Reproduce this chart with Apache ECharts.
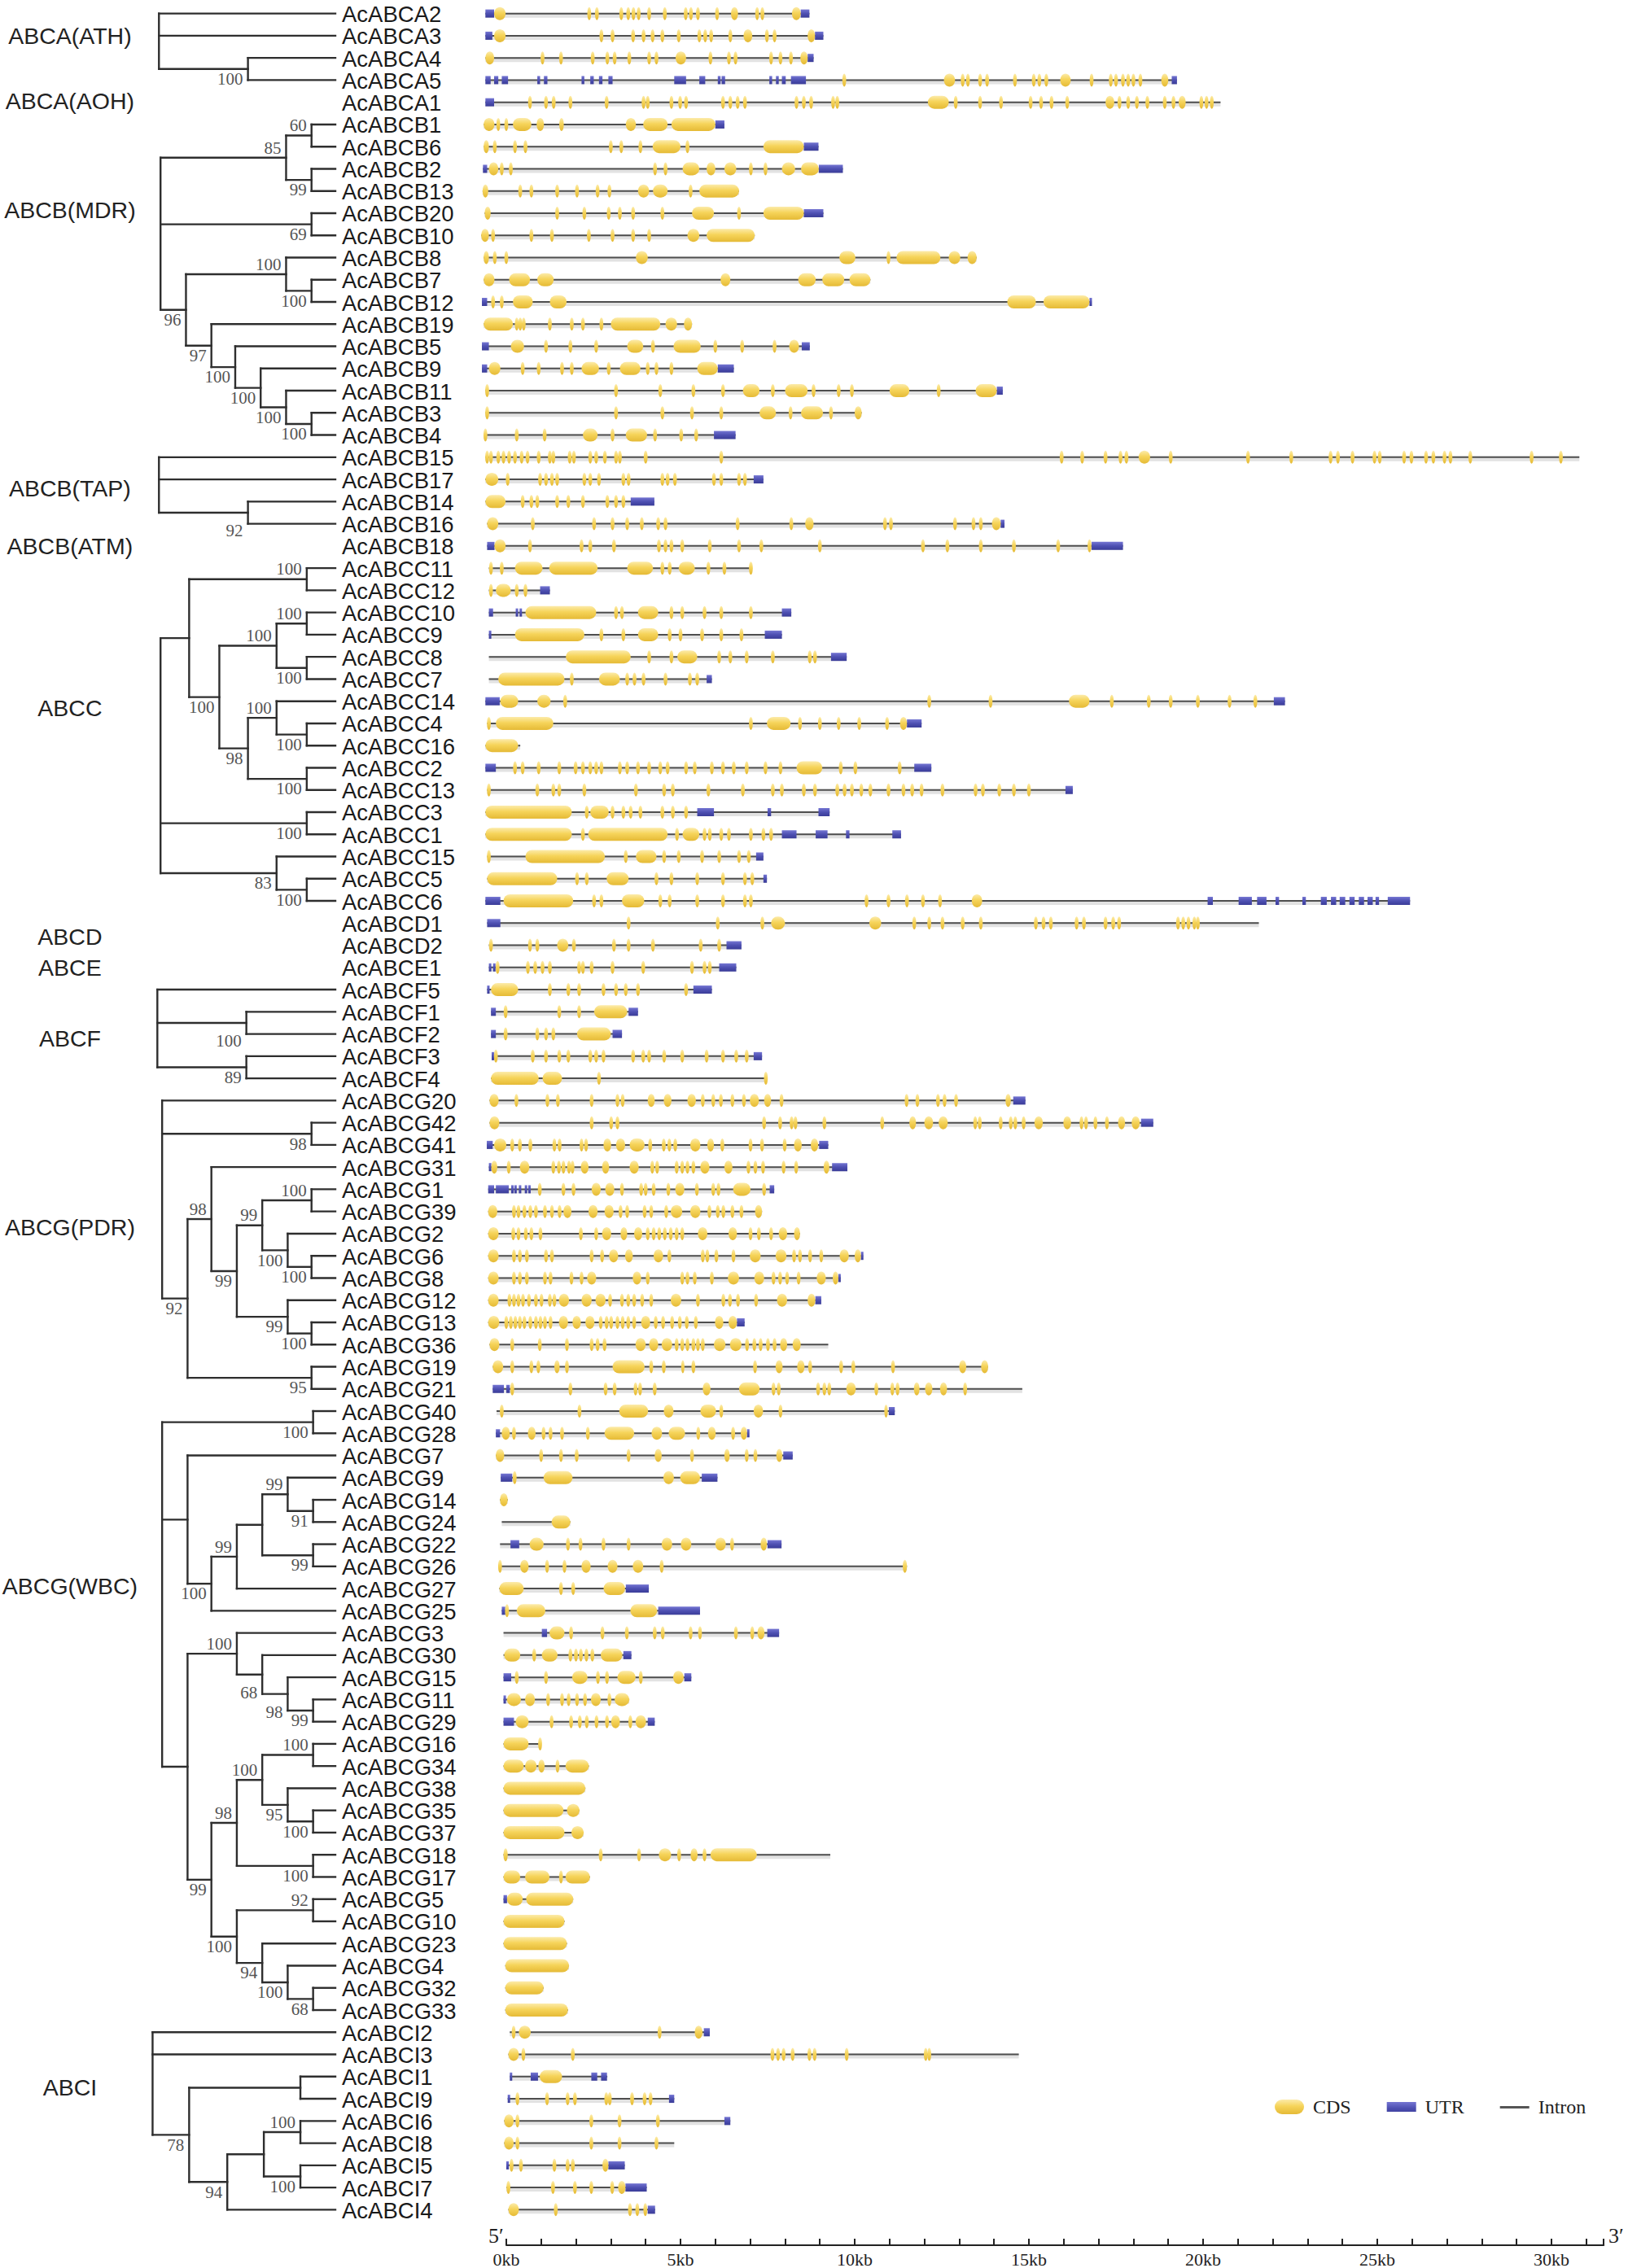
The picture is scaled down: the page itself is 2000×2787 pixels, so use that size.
<!DOCTYPE html>
<html>
<head>
<meta charset="utf-8">
<title>ABC gene family - tree and gene structure</title>
<script src="https://cdn.jsdelivr.net/npm/echarts/dist/echarts.min.js"></script>
<style>
  html, body { margin: 0; padding: 0; background: #fff; }
  #chart { width: 2000px; height: 2787px; }
</style>
</head>
<body>
<div id="chart"></div>
<script>
// ---- rows (top to bottom) ----
const geneNames = [
  'AcABCA2','AcABCA3','AcABCA4','AcABCA5','AcABCA1',
  'AcABCB1','AcABCB6','AcABCB2','AcABCB13','AcABCB20','AcABCB10','AcABCB8','AcABCB7','AcABCB12',
  'AcABCB19','AcABCB5','AcABCB9','AcABCB11','AcABCB3','AcABCB4','AcABCB15','AcABCB17','AcABCB14',
  'AcABCB16','AcABCB18',
  'AcABCC11','AcABCC12','AcABCC10','AcABCC9','AcABCC8','AcABCC7','AcABCC14','AcABCC4','AcABCC16',
  'AcABCC2','AcABCC13','AcABCC3','AcABCC1','AcABCC15','AcABCC5','AcABCC6',
  'AcABCD1','AcABCD2','AcABCE1',
  'AcABCF5','AcABCF1','AcABCF2','AcABCF3','AcABCF4',
  'AcABCG20','AcABCG42','AcABCG41','AcABCG31','AcABCG1','AcABCG39','AcABCG2','AcABCG6','AcABCG8',
  'AcABCG12','AcABCG13','AcABCG36','AcABCG19','AcABCG21',
  'AcABCG40','AcABCG28','AcABCG7','AcABCG9','AcABCG14','AcABCG24','AcABCG22','AcABCG26','AcABCG27',
  'AcABCG25','AcABCG3','AcABCG30','AcABCG15','AcABCG11','AcABCG29','AcABCG16','AcABCG34','AcABCG38',
  'AcABCG35','AcABCG37','AcABCG18','AcABCG17','AcABCG5','AcABCG10','AcABCG23','AcABCG4','AcABCG32',
  'AcABCG33',
  'AcABCI2','AcABCI3','AcABCI1','AcABCI9','AcABCI6','AcABCI8','AcABCI5','AcABCI7','AcABCI4'
];

// ---- gene span (kb), intron line from start to end ----
const geneSpan = [
  [-0.6,8.7],[-0.6,9.1],[-0.6,8.82],[-0.6,19.25],[-0.6,20.5],
  [-0.65,6.26],[-0.65,8.96],[-0.67,9.66],[-0.68,6.68],[-0.62,9.1],[-0.72,7.13],[-0.65,13.5],[-0.65,10.45],[-0.7,16.8],
  [-0.65,5.33],[-0.7,8.71],[-0.7,6.53],[-0.6,14.25],[-0.6,10.2],[-0.65,6.58],[-0.6,30.8],[-0.6,7.38],[-0.6,4.25],
  [-0.55,14.3],[-0.55,17.7],
  [-0.5,7.05],[-0.5,1.25],[-0.5,8.18],[-0.5,7.91],[-0.5,9.77],[-0.5,5.9],[-0.6,22.35],[-0.55,11.92],[-0.6,0.4],
  [-0.6,12.2],[-0.55,16.26],[-0.6,9.28],[-0.6,11.33],[-0.55,7.38],[-0.55,7.48],[-0.6,25.94],
  [-0.55,21.6],[-0.5,6.75],[-0.5,6.6],
  [-0.55,5.9],[-0.44,3.78],[-0.44,3.32],[-0.42,7.34],[-0.44,7.48],
  [-0.48,14.9],[-0.48,18.57],[-0.56,9.24],[-0.5,9.79],[-0.52,7.69],[-0.52,7.34],[-0.52,8.43],[-0.52,10.24],[-0.52,9.6],
  [-0.52,9.04],[-0.52,6.84],[-0.48,9.24],[-0.39,13.83],[-0.39,14.81],
  [-0.28,11.15],[-0.3,6.96],[-0.3,8.22],[-0.16,6.06],[-0.18,0.04],[-0.13,1.84],[-0.18,7.9],[-0.22,11.5],[-0.2,4.09],
  [-0.13,5.56],[-0.08,7.83],[-0.08,3.59],[-0.08,5.31],[-0.08,3.53],[-0.08,4.26],[-0.08,1.0],[-0.08,2.37],[-0.08,2.27],
  [-0.08,2.1],[-0.08,2.22],[-0.08,9.3],[-0.08,2.4],[-0.08,1.92],[-0.08,1.67],[-0.08,1.74],[-0.03,1.8],[-0.03,1.07],
  [-0.03,1.77],
  [0.1,5.84],[0.06,14.71],[0.1,2.9],[0.04,4.82],[-0.06,6.43],[-0.06,4.82],[0.0,3.4],[0.0,4.03],[0.06,4.27]
];

// ---- CDS exons (kb): [start, end], or a single number for a small exon centre ----
const cdsExons = [
  [[-0.35,-0.02],2.38,2.6,3.3,3.5,3.65,3.8,4.1,4.55,5.15,5.3,5.5,6.05,[6.45,6.65],7.2,7.35,[8.2,8.45]],
  [[-0.35,-0.02],2.73,3.05,3.64,3.94,4.2,4.48,4.95,5.54,5.71,5.88,6.43,[6.81,7.06],7.48,7.7,[8.65,8.86]],
  [[-0.6,-0.35],1.04,1.57,2.48,2.9,3.11,3.53,4.1,4.31,[4.86,5.16],5.86,6.39,6.58,7.6,7.87,8.17,[8.44,8.65]],
  [9.7,[12.56,12.88],13.1,13.25,13.6,13.8,14.6,15.14,15.3,15.5,[15.9,16.2],16.8,17.35,17.5,17.7,17.85,18.0,18.2,[18.8,19.0]],
  [0.68,1.14,1.36,1.84,2.88,3.94,4.06,4.74,4.99,5.16,6.22,6.43,6.64,6.85,8.33,8.54,8.75,9.38,9.5,[12.1,12.7],12.9,13.6,
   14.2,15.05,15.35,15.65,16.1,[17.2,17.45],17.6,17.85,18.1,18.4,18.9,19.15,[19.3,19.5],19.95,20.1,20.25],
  [[-0.65,-0.34],-0.23,0.0,[0.19,0.72],[0.87,1.08],[1.52,1.65],[3.43,3.72],[3.93,4.63],[4.74,6.0]],
  [[-0.65,-0.5],-0.33,0.25,0.55,3.0,3.3,3.85,[4.2,5.0],5.2,[7.38,8.54]],
  [[-0.5,-0.23],-0.13,0.13,4.27,4.57,[5.06,5.54],[5.75,6.0],[6.26,6.6],7.02,7.44,[7.91,8.29],[8.46,8.97]],
  [[-0.68,-0.52],0.4,0.72,1.46,2.03,2.62,2.96,[3.78,4.1],[4.21,4.63],5.29,[5.54,6.68]],
  [[-0.62,-0.45],1.46,2.24,2.94,3.26,3.64,4.48,[5.33,5.96],6.68,[7.38,8.54]],
  [[-0.72,-0.5],-0.38,0.72,1.31,2.37,3.05,3.64,4.1,[5.2,5.54],[5.75,7.13]],
  [[-0.65,-0.5],-0.33,0.0,[3.72,4.06],[9.56,10.02],10.97,[11.2,12.46],[12.7,13.03],[13.24,13.5]],
  [[-0.65,-0.34],[0.08,0.68],[0.89,1.36],[6.15,6.43],[8.38,8.88],[9.07,9.7],[9.85,10.45]],
  [-0.38,-0.13,[0.19,0.76],[1.25,1.73],[14.38,15.2],[15.42,16.74]],
  [[-0.65,0.19],0.3,0.4,0.5,1.25,1.88,2.2,2.73,[3.0,4.42],[4.57,4.9],[5.1,5.33]],
  [[0.13,0.51],1.14,1.84,2.58,[3.47,3.93],4.21,[4.8,5.58],6.0,6.77,7.7,[8.12,8.4]],
  [[-0.5,-0.17],0.47,0.93,1.6,1.88,[2.16,2.66],2.94,[3.26,3.85],4.06,4.31,4.74,[5.48,6.07]],
  [-0.55,3.15,4.42,5.37,6.22,[6.79,7.27],7.65,[8.0,8.65],8.82,9.54,9.92,[11.0,11.57],12.41,[13.47,14.08]],
  [-0.55,3.15,4.48,5.33,6.17,[7.27,7.74],8.16,[8.46,9.09],9.32,[10.0,10.2]],
  [-0.6,0.3,1.1,[2.2,2.62],3.05,[3.43,4.04],4.27,5.02,5.45],
  [-0.55,-0.44,-0.23,-0.08,0.08,0.25,0.44,0.61,0.93,1.25,1.35,1.82,1.94,2.41,2.58,2.83,3.15,3.26,4.0,6.17,15.94,16.53,
   17.2,17.63,17.8,[18.15,18.48],19.07,21.29,22.53,23.66,23.87,24.29,24.92,25.07,25.77,25.98,26.4,26.61,26.93,27.1,
   27.67,29.43,30.27],
  [[-0.6,-0.23],0.04,0.97,1.14,1.31,1.46,2.24,2.41,2.66,3.36,3.51,4.48,4.63,4.84,5.96,6.17,6.68,6.85],
  [[-0.6,-0.02],0.47,0.72,0.89,1.46,1.78,2.2,2.9,3.15,3.36],
  [[-0.55,-0.23],0.76,2.52,3.05,3.47,3.89,4.36,4.57,6.64,8.18,[8.58,8.82],10.87,11.04,12.88,13.41,13.62,[13.94,14.19]],
  [[-0.34,-0.02],0.68,2.16,2.41,3.09,4.38,4.57,4.74,5.05,5.84,6.68,7.32,9.0,11.96,12.66,13.62,14.57,15.84,16.74],
  [-0.44,-0.13,[0.25,1.04],[1.23,2.62],[3.47,4.21],4.48,4.69,[4.95,5.41],5.8,6.26,7.02],
  [-0.44,[-0.3,0.13],0.3,0.55],
  [[0.55,2.58],3.15,3.32,[3.78,4.36],4.74,5.05,5.69,6.17,7.02],
  [[0.25,2.24],2.73,3.36,[3.78,4.36],4.69,5.0,5.62,6.17,6.75],
  [[1.71,3.57],4.1,4.74,[4.91,5.48],6.11,6.43,6.9,7.65,8.71,8.86],
  [[-0.23,1.67],1.88,[2.66,3.26],3.47,3.68,3.94,4.57,5.27,5.48],
  [[-0.17,0.34],[0.89,1.27],1.69,12.14,13.9,[16.15,16.74],17.38,18.44,19.07,19.85,20.76,21.5],
  [-0.5,[-0.3,1.35],7.02,[7.48,8.16],8.43,9.0,9.54,10.13,10.93,[11.3,11.5]],
  [[-0.6,0.34]],
  [0.25,0.47,0.93,1.52,1.99,2.2,2.41,2.58,2.73,3.26,3.47,3.78,4.1,4.42,4.63,5.16,5.41,5.9,6.22,6.53,6.9,7.44,7.87,
   [8.33,9.07],9.6,10.02,11.29],
  [-0.5,0.89,1.35,1.52,2.24,3.72,4.53,4.78,5.8,6.79,7.65,7.91,8.54,8.86,9.5,9.71,9.92,10.19,10.45,10.97,11.4,11.65,
   11.92,12.52,13.47,13.68,14.15,14.57,15.0],
  [[-0.6,1.88],2.31,[2.41,2.94],3.05,3.36,3.57,3.85,4.48,4.78,5.16],
  [[-0.6,1.88],2.2,[2.35,4.63],4.9,[5.06,5.54],5.69,5.84,6.17,6.39,7.02,7.38,7.6],
  [-0.5,[0.55,2.83],3.43,[3.72,4.31],4.53,4.95,5.62,6.11,6.68,6.96],
  [[-0.55,1.46],2.03,2.31,[2.88,3.51],4.31,4.74,5.48,6.22,6.85,7.06],
  [[-0.08,1.92],2.52,2.73,[3.32,3.96],4.42,4.69,5.48,6.22,6.85,7.02,10.34,10.97,11.5,11.96,12.45,[13.36,13.66]],
  [3.51,6.07,7.35,[7.6,8.0],[10.42,10.76],11.71,12.14,12.52,13.1,13.62,15.2,15.42,15.63,16.37,16.58,17.2,17.42,17.59,
   19.28,19.43,19.58,19.75,19.85],
  [-0.44,0.68,0.89,[1.46,1.78],1.94,3.09,3.51,4.21,5.58,6.11],
  [-0.25,0.62,0.83,1.04,1.25,2.09,2.2,2.45,3.05,3.93,5.33,5.69,5.84],
  [[-0.44,0.34],1.25,1.78,2.09,2.79,3.15,3.43,3.78,5.16],
  [-0.02,1.52,2.09,[2.52,3.47]],
  [-0.02,0.89,1.14,1.35,[2.03,3.0]],
  [-0.3,0.76,1.14,1.52,1.78,2.41,2.58,2.79,3.64,3.93,4.1,4.53,5.05,5.75,6.22,6.6,6.9],
  [[-0.44,0.93],[1.04,1.6],2.66,7.45],
  [[-0.48,-0.22],0.29,1.18,1.48,2.45,3.19,3.34,[4.06,4.26],[4.52,4.74],[5.2,5.44],5.64,5.94,6.16,6.49,6.82,[6.99,7.25],
   [7.4,7.6],7.9,11.49,11.8,12.39,12.58,12.91,[14.33,14.48]],
  [[-0.48,-0.2],2.45,3.01,3.19,7.4,7.86,8.19,8.3,9.13,10.79,[11.57,11.76],[12.0,12.25],[12.41,12.67],13.46,13.59,14.19,
   14.48,14.61,14.85,[15.16,15.4],[15.99,16.21],16.51,16.64,16.91,17.24,[17.56,17.76],[17.95,18.18]],
  [[-0.35,0.0],0.17,0.39,0.69,1.38,1.53,2.16,2.29,[2.79,3.01],[3.15,3.41],[3.54,3.97],4.13,4.52,4.68,4.85,[5.28,5.57],
   [5.77,5.96],6.2,7.01,7.34,7.99,[8.26,8.48],[8.74,8.95]],
  [[-0.43,-0.26],0.07,[0.39,0.66],1.35,1.51,1.64,1.8,1.9,[2.14,2.36],[2.75,2.95],[3.54,3.8],4.19,4.33,4.89,5.05,5.2,
   5.37,[5.57,5.83],[6.26,6.49],6.95,7.15,7.37,7.96,8.32,[9.11,9.27]],
  [0.96,1.64,1.93,[2.45,2.71],[2.84,3.1],3.32,3.87,4.0,4.23,4.65,[4.85,5.11],5.47,5.94,6.09,[6.51,7.01],7.4],
  [[-0.52,-0.26],0.22,0.35,0.52,0.69,0.85,1.11,1.31,1.53,[1.64,1.87],[2.36,2.62],[2.82,3.08],3.28,3.47,3.97,4.16,4.59,
   [4.72,5.05],[5.28,5.57],5.83,6.07,6.23,6.49,6.75,[7.14,7.34]],
  [[-0.52,-0.22],0.2,0.35,0.56,0.72,0.98,2.14,2.58,[2.75,3.01],[3.28,3.47],[3.67,3.9],4.06,4.23,4.39,4.55,4.72,4.89,
   5.05,[5.5,5.77],[6.38,6.62],7.01,7.25,7.6,[7.82,8.06],[8.26,8.43]],
  [[-0.52,-0.22],0.22,0.39,0.59,1.14,1.31,2.45,2.75,[2.95,3.21],[3.41,3.63],[4.23,4.5],4.68,5.64,5.77,6.03,6.52,
   [6.99,7.3],[7.73,8.04],8.26,8.43,8.72,9.04,[9.57,9.83],[10.0,10.18]],
  [[-0.52,-0.22],0.22,0.39,0.59,1.11,1.27,1.87,2.16,[2.32,2.58],[3.63,3.87],4.06,5.05,5.2,5.41,5.9,[6.36,6.68],
   [7.12,7.4],7.67,7.86,8.06,8.39,[8.91,9.17],[9.37,9.53]],
  [[-0.52,-0.22],0.09,0.22,0.35,0.48,0.65,0.85,1.01,1.25,1.38,[1.51,1.8],[2.16,2.45],[2.56,2.85],2.98,3.32,3.5,3.67,
   3.9,4.16,[4.72,5.02],5.5,6.23,6.42,6.65,7.17,[7.77,8.06],[8.65,8.87]],
  [[-0.52,-0.2],0.0,0.13,0.26,0.39,0.52,0.69,0.85,0.98,1.11,1.27,[1.51,1.77],[1.9,2.14],[2.27,2.53],2.71,2.88,3.01,
   3.19,3.34,3.5,3.67,[3.87,4.13],4.29,4.5,4.76,4.98,5.18,5.44,[5.99,6.23],[6.38,6.62]],
  [[-0.48,-0.2],0.17,0.96,1.74,2.45,2.62,2.82,[3.71,4.0],[4.1,4.36],[4.46,4.76],4.89,5.05,5.2,5.37,5.5,5.64,
   [5.96,6.29],[6.42,6.75],6.91,7.12,7.3,7.51,7.7,[7.86,8.06],[8.22,8.45]],
  [[-0.39,-0.09],0.17,0.72,0.92,[1.38,1.53],1.74,[3.05,3.97],4.16,4.52,[5.02,5.11],5.37,7.14,[7.73,7.93],[8.35,8.56],
   8.72,9.61,9.96,11.1,[13.0,13.2],[13.63,13.83]],
  [0.17,1.84,2.85,3.11,3.71,3.84,4.26,[5.64,5.86],[6.68,7.27],7.67,7.82,8.95,9.13,9.27,[9.76,10.03],10.62,11.08,
   11.23,[11.7,11.86],[12.02,12.23],[12.45,12.65],13.17],
  [-0.13,2.1,[3.24,4.07],[4.52,4.8],[5.57,6.02],6.17,[7.1,7.37],7.87,[10.85,10.95]],
  [[-0.13,0.1],0.22,[0.62,0.84],1.07,1.27,1.6,2.34,[2.82,3.67],[4.17,4.47],[4.66,5.13],5.51,[5.79,6.01],6.51,[6.73,6.91]],
  [[-0.3,-0.06],1.0,1.57,2.02,3.51,[4.26,4.46],5.33,[6.26,6.41],6.9,7.15,[7.75,7.92]],
  [0.24,[1.07,1.9],[4.51,4.81],[4.99,5.56]],
  [[-0.18,0.04]],
  [[1.3,1.84]],
  [[0.67,1.07],1.77,2.13,2.79,3.51,[4.46,4.76],[5.01,5.31],[6.0,6.3],6.48,[7.3,7.48]],
  [-0.18,[0.4,0.64],1.17,1.67,[2.16,2.42],[2.91,3.19],[3.63,3.93],4.46,[11.38,11.5]],
  [[-0.2,0.5],1.57,1.92,[2.79,3.41]],
  [0.02,[0.3,1.12],[3.56,4.33]],
  [[1.24,1.67],1.86,2.76,3.46,4.26,4.49,5.29,5.56,6.59,7.06,[7.21,7.41]],
  [[-0.06,0.4],0.8,[1.02,1.47],1.84,2.0,2.14,2.3,2.47,[2.71,3.33]],
  [0.3,1.14,[1.89,2.33],2.63,2.89,[3.19,3.71],3.86,[4.79,5.09]],
  [[0.02,0.42],[0.54,0.82],1.2,1.6,1.79,2.03,2.26,[2.43,2.71],2.96,[3.11,3.53]],
  [[0.27,0.64],1.3,1.86,2.11,2.31,2.59,2.89,[3.01,3.26],3.56,[3.71,4.01]],
  [[-0.08,0.64],0.97],
  [[-0.08,0.5],[0.54,0.87],[0.92,1.1],1.47,[1.7,2.37]],
  [[-0.08,2.27]],
  [[-0.08,1.64],[1.74,2.1]],
  [[-0.08,1.67],[1.87,2.22]],
  [[-0.08,0.04],2.71,3.81,[4.38,4.73],4.96,[5.29,5.49],5.69,[5.86,7.19]],
  [[-0.08,0.4],[0.54,1.24],1.57,[1.7,2.4]],
  [[0.02,0.47],[0.57,1.92]],
  [[-0.08,1.67]],
  [[-0.08,1.74]],
  [[-0.03,1.8]],
  [[-0.03,1.07]],
  [[-0.03,1.77]],
  [0.21,[0.36,0.7],4.4,[5.41,5.63]],
  [[0.06,0.36],0.49,1.91,7.64,7.8,7.96,8.22,8.7,8.85,9.77,12.04,12.14],
  [[0.96,1.6]],
  [0.32,1.17,1.76,1.97,2.87,2.97,3.61,3.97,4.14],
  [[-0.06,0.21],0.32,2.44,3.25,4.35],
  [[-0.06,0.21],0.32,2.44,3.25,4.31],
  [0.15,0.42,1.38,1.76,1.91,[2.76,2.93]],
  [0.06,1.34,1.97,2.44,3.04,[3.21,3.42]],
  [[0.06,0.36],1.42,3.55,3.76,3.99]
];

// ---- UTR blocks (kb) ----
const utrBlocks = [
  [[-0.6,-0.35],[8.45,8.7]],
  [[-0.6,-0.4],[8.86,9.1]],
  [[8.65,8.82]],
  [[-0.6,-0.45],[-0.35,-0.23],[-0.13,0.05],[0.89,0.97],[1.08,1.18],[2.16,2.24],[2.41,2.51],[2.66,2.76],[2.93,3.05],
   [4.82,5.16],[5.54,5.71],[6.07,6.15],[6.18,6.28],[7.55,7.63],[7.74,7.82],[7.91,8.02],[8.17,8.6],[19.1,19.25]],
  [[-0.6,-0.35]],
  [[6.0,6.26]],
  [[8.54,8.96]],
  [[-0.67,-0.55],[8.97,9.66]],
  [],
  [[8.54,9.1]],
  [],
  [],
  [],
  [[-0.7,-0.55],[16.74,16.8]],
  [],
  [[-0.7,-0.5],[8.48,8.71]],
  [[-0.7,-0.55],[6.07,6.53]],
  [[14.08,14.25]],
  [],
  [[5.96,6.58]],
  [],
  [[7.1,7.38]],
  [[3.57,4.25]],
  [[14.19,14.3]],
  [[-0.55,-0.34],[16.8,17.7]],
  [],
  [[0.97,1.25]],
  [[-0.5,-0.38],[0.27,0.33],[0.38,0.43],[7.91,8.18]],
  [[-0.5,-0.44],[7.42,7.91]],
  [[9.32,9.77]],
  [[5.75,5.9]],
  [[-0.6,-0.19],[22.03,22.35]],
  [[11.5,11.92]],
  [],
  [[-0.6,-0.3],[11.71,12.2]],
  [[16.05,16.26]],
  [[5.48,5.96],[7.5,7.6],[8.96,9.28]],
  [[7.91,8.33],[8.88,9.22],[9.75,9.85],[11.08,11.33]],
  [[7.17,7.38]],
  [[7.38,7.48]],
  [[-0.6,-0.17],[20.13,20.28],[21.02,21.4],[21.55,21.82],[22.08,22.18],[22.85,22.95],[23.38,23.55],[23.67,23.82],
   [23.92,24.08],[24.2,24.35],[24.47,24.62],[24.72,24.87],[24.95,25.05],[25.3,25.94]],
  [[-0.55,-0.17]],
  [[6.32,6.75]],
  [[-0.5,-0.44],[-0.38,-0.32],[6.11,6.6]],
  [[-0.55,-0.49],[5.37,5.9]],
  [[-0.44,-0.3],[3.51,3.78]],
  [[-0.44,-0.3],[3.05,3.32]],
  [[-0.42,-0.36],[7.1,7.34]],
  [],
  [[14.55,14.9]],
  [[18.22,18.57]],
  [[-0.56,-0.39],[8.98,9.24]],
  [[-0.5,-0.43],[9.35,9.79]],
  [[-0.52,-0.35],[-0.3,0.07],[0.14,0.2],[0.23,0.29],[0.36,0.42],[0.53,0.59],[0.63,0.69],[7.56,7.69]],
  [],
  [],
  [[10.18,10.24]],
  [[9.53,9.6]],
  [[8.87,9.04]],
  [[6.62,6.84]],
  [],
  [],
  [[-0.39,-0.07],[0.0,0.1]],
  [[10.98,11.15]],
  [[-0.3,-0.18],[6.91,6.96]],
  [[7.95,8.22]],
  [[-0.16,0.17],[5.61,6.06]],
  [],
  [],
  [[0.12,0.37],[7.5,7.9]],
  [],
  [[3.43,4.09]],
  [[-0.13,-0.03],[4.36,5.56]],
  [[1.02,1.17],[7.49,7.83]],
  [[3.36,3.59]],
  [[-0.08,0.14],[5.11,5.31]],
  [[-0.08,-0.02]],
  [[-0.08,0.22],[4.06,4.26]],
  [],[],[],[],[],[],[],
  [[-0.08,0.02]],
  [],[],[],[],[],
  [[5.67,5.84]],
  [],
  [[0.1,0.15],[0.7,0.91],[2.44,2.61],[2.72,2.89]],
  [[0.04,0.1],[4.67,4.82]],
  [[6.26,6.43]],
  [],
  [[0.0,0.06],[2.93,3.4]],
  [[3.42,4.03]],
  [[4.06,4.27]]
];

// ---- trees: [branch depth, bootstrap, label side, ...children]; leaves are gene names ----
const LEAF_TIP = 105.5;
const treeABCA = [50, null, null, 'AcABCA2', 'AcABCA3', [78, 100, 'b', 'AcABCA4', 'AcABCA5']];
const treeABCB_MDR = [50.5, null, null,
  [90, 85, 'a', [98, 60, 'a', 'AcABCB1', 'AcABCB6'], [98, 99, 'b', 'AcABCB2', 'AcABCB13']],
  [98, 69, 'b', 'AcABCB20', 'AcABCB10'],
  [58.5, 96, 'b',
    [90, 100, 'a', 'AcABCB8', [98, 100, 'b', 'AcABCB7', 'AcABCB12']],
    [66.5, 97, 'b', 'AcABCB19',
      [74, 100, 'b', 'AcABCB5',
        [82, 100, 'b', 'AcABCB9',
          [90, 100, 'b', 'AcABCB11', [98, 100, 'b', 'AcABCB3', 'AcABCB4']]]]]]];
const treeABCB_TAP = [50, null, null, 'AcABCB15', 'AcABCB17', [78, 92, 'bb', 'AcABCB14', 'AcABCB16']];
const treeABCC = [50.5, null, null,
  [59.5, null, null,
    [96.5, 100, 'a', 'AcABCC11', 'AcABCC12'],
    [69, 100, 'b',
      [87, 100, 'a', [96.5, 100, 'a', 'AcABCC10', 'AcABCC9'], [96.5, 100, 'b', 'AcABCC8', 'AcABCC7']],
      [78, 98, 'b',
        [87, 100, 'a', 'AcABCC14', [96.5, 100, 'b', 'AcABCC4', 'AcABCC16']],
        [96.5, 100, 'b', 'AcABCC2', 'AcABCC13']]]],
  [96.5, 100, 'b', 'AcABCC3', 'AcABCC1'],
  [87, 83, 'b', 'AcABCC15', [96.5, 100, 'b', 'AcABCC5', 'AcABCC6']]];
const treeABCF = [49.5, null, null, 'AcABCF5',
  [77.5, 100, 'bb', 'AcABCF1', 'AcABCF2'],
  [77.5, 89, 'b', 'AcABCF3', 'AcABCF4']];
const treeABCG_PDR = [51, null, null, 'AcABCG20',
  [98, 98, 'b', 'AcABCG42', 'AcABCG41'],
  [59, 92, 'b',
    [66.5, 98, 'a', 'AcABCG31',
      [74.5, 99, 'b',
        [82.5, 99, 'a', [98, 100, 'a', 'AcABCG1', 'AcABCG39'],
          [90.5, 100, 'b', 'AcABCG2', [98, 100, 'b', 'AcABCG6', 'AcABCG8']]],
        [90.5, 99, 'b', 'AcABCG12', [98, 100, 'b', 'AcABCG13', 'AcABCG36']]]],
    [98, 95, 'b', 'AcABCG19', 'AcABCG21']]];
const treeABCG_WBC = [51, null, null,
  [98.5, 100, 'b', 'AcABCG40', 'AcABCG28'],
  [59, null, null, 'AcABCG7',
    [66.5, 100, 'b',
      [74.5, 99, 'a',
        [82.5, null, null,
          [90.5, 99, 'a', 'AcABCG9', [98.5, 91, 'b', 'AcABCG14', 'AcABCG24']],
          [98.5, 99, 'b', 'AcABCG22', 'AcABCG26']],
        'AcABCG27'],
      'AcABCG25']],
  [59, null, null,
    [74.5, 100, 'a', 'AcABCG3',
      [82.5, 68, 'bb', 'AcABCG30',
        [90.5, 98, 'bb', 'AcABCG15', [98.5, 99, 'b', 'AcABCG11', 'AcABCG29']]]],
    [66.5, 99, 'b',
      [74.5, 98, 'a',
        [82.5, 100, 'a', [98.5, 100, 'a', 'AcABCG16', 'AcABCG34'],
          [90.5, 95, 'b', 'AcABCG38', [98.5, 100, 'b', 'AcABCG35', 'AcABCG37']]],
        [98.5, 100, 'b', 'AcABCG18', 'AcABCG17']],
      [74.5, 100, 'b',
        [98.5, 92, 'a', 'AcABCG5', 'AcABCG10'],
        [82.5, 94, 'b', 'AcABCG23',
          [90.5, 100, 'b', 'AcABCG4', [98.5, 68, 'b', 'AcABCG32', 'AcABCG33']]]]]]];
const treeABCI = [48, null, null, 'AcABCI2', 'AcABCI3',
  [59.5, 78, 'b', [94.5, null, null, 'AcABCI1', 'AcABCI9'],
    [71.5, 94, 'b',
      [83, null, null, [94.5, 100, 'a', 'AcABCI6', 'AcABCI8'], [94.5, 100, 'b', 'AcABCI5', 'AcABCI7']],
      'AcABCI4']]];
const allTrees = [treeABCA, treeABCB_MDR, treeABCB_TAP, treeABCC, treeABCF, treeABCG_PDR, treeABCG_WBC, treeABCI];

// ---- subfamily labels ----
const cladeNames = ['ABCA(ATH)', 'ABCA(AOH)', 'ABCB(MDR)', 'ABCB(TAP)', 'ABCB(ATM)', 'ABCC', 'ABCD', 'ABCE',
  'ABCF', 'ABCG(PDR)', 'ABCG(WBC)', 'ABCI'];
const cladeRows = [1.0, 3.95, 8.85, 21.4, 24.0, 31.3, 41.6, 43.0, 46.2, 54.7, 70.9, 93.5];
const CLADE_X = 22;

// ---- walk the trees into line segments and bootstrap labels ----
const branchLines = [];
const bootLabels = [];
const sideOffset = {a: -0.45, b: 0.45, bb: 0.82};

function layout(node, parentDepth) {
  if (typeof node === 'string') {
    const y = geneNames.indexOf(node);
    branchLines.push([parentDepth, y, LEAF_TIP, y]);
    return y;
  }
  const [depth, boot, side, ...kids] = node;
  const ys = kids.map(k => layout(k, depth));
  const top = ys[0], bottom = ys[ys.length - 1];
  branchLines.push([depth, top, depth, bottom]);
  const y = (top + bottom) / 2;
  if (parentDepth !== null) branchLines.push([parentDepth, y, depth, y]);
  if (boot !== null) bootLabels.push([depth, y + sideOffset[side], boot]);
  return y;
}
allTrees.forEach(t => layout(t, null));

// ---- flatten gene features ----
const intronItems = geneSpan.map((s, row) => [row, s[0], s[1]]);
const utrItems = [];
utrBlocks.forEach((list, row) => list.forEach(b => utrItems.push([row, b[0], b[1]])));
const cdsItems = [];
cdsExons.forEach((list, row) => list.forEach(e => {
  const b = Array.isArray(e) ? e : [e - 0.055, e + 0.055];
  cdsItems.push([row, b[0], b[1]]);
}));

const cdsFill = new echarts.graphic.LinearGradient(0, 0, 0, 1, [
  {offset: 0, color: '#fcebaa'}, {offset: 0.45, color: '#f6d45a'}, {offset: 1, color: '#e5ba36'}
]);
const utrFill = new echarts.graphic.LinearGradient(0, 0, 0, 1, [
  {offset: 0, color: '#7475d2'}, {offset: 0.5, color: '#4e50b2'}, {offset: 1, color: '#3a3c98'}
]);

const ROWS_MIN = -0.5, ROWS_MAX = 99.5;
const GRID_TOP = 3, GRID_H = 2726;

function renderIntron(params, api) {
  const a = api.coord([api.value(1), api.value(0)]);
  const b = api.coord([api.value(2), api.value(0)]);
  return {
    type: 'group',
    children: [
      {type: 'rect', shape: {x: a[0], y: a[1] - 1, width: b[0] - a[0], height: 6}, style: {fill: '#e2e2e2'}},
      {type: 'line', shape: {x1: a[0], y1: a[1], x2: b[0], y2: a[1]}, style: {stroke: '#4e4e4e', lineWidth: 2}}
    ]
  };
}

function renderUtr(params, api) {
  const a = api.coord([api.value(1), api.value(0)]);
  const b = api.coord([api.value(2), api.value(0)]);
  const h = 10;
  return {type: 'rect', shape: {x: a[0], y: a[1] - h / 2, width: Math.max(b[0] - a[0], 3), height: h},
    style: {fill: utrFill}};
}

// narrow exons are thin ellipses, wide ones are pills
function renderCds(params, api) {
  const a = api.coord([api.value(1), api.value(0)]);
  const b = api.coord([api.value(2), api.value(0)]);
  const h = 16;
  const w = Math.max(b[0] - a[0], 4);
  if (w < h) {
    return {type: 'ellipse', shape: {cx: a[0] + w / 2, cy: a[1], rx: w / 2, ry: h / 2}, style: {fill: cdsFill}};
  }
  return {type: 'rect', shape: {x: a[0], y: a[1] - h / 2, width: w, height: h, r: h / 2}, style: {fill: cdsFill}};
}

const chart = echarts.init(document.getElementById('chart'), null, {renderer: 'svg'});

chart.setOption({
  backgroundColor: '#fff',
  animation: false,
  grid: [
    {left: 0, top: GRID_TOP, width: 412, height: GRID_H},
    {left: 579.2, top: GRID_TOP, width: 1412.4, height: GRID_H},
    {left: 622, top: 2700, width: 1348.2, height: 59}
  ],
  xAxis: [
    {gridIndex: 0, type: 'value', min: 0, max: LEAF_TIP, show: false},
    {gridIndex: 1, type: 'value', min: -1, max: 32, show: false},
    {
      gridIndex: 2, type: 'value', min: 0, max: 31.5, interval: 1, position: 'bottom',
      axisLine: {lineStyle: {color: '#222', width: 2}},
      axisTick: {inside: true, length: 8, lineStyle: {color: '#222', width: 2}},
      splitLine: {show: false},
      axisLabel: {
        margin: 6, color: '#222', fontFamily: 'Liberation Serif', fontSize: 22,
        formatter: v => (v % 5 === 0 ? v + 'kb' : '')
      }
    }
  ],
  yAxis: [
    {gridIndex: 0, type: 'value', min: ROWS_MIN, max: ROWS_MAX, inverse: true, show: false},
    {gridIndex: 1, type: 'value', min: ROWS_MIN, max: ROWS_MAX, inverse: true, show: false},
    {gridIndex: 2, type: 'value', show: false}
  ],
  legend: {
    left: 1561, top: 2572, itemWidth: 36, itemHeight: 18, itemGap: 44, selectedMode: false,
    textStyle: {fontFamily: 'Liberation Serif', fontSize: 24, color: '#222', padding: [0, 0, 0, 6]},
    data: [
      {name: 'CDS', icon: 'path://M9,0 L27,0 A9,9 0 0 1 27,18 L9,18 A9,9 0 0 1 9,0 Z', itemStyle: {color: cdsFill}},
      {name: 'UTR', icon: 'path://M0,0 M0,3 L36,3 L36,15 L0,15 Z M36,18', itemStyle: {color: utrFill}},
      {name: 'Intron', icon: 'path://M0,0 M0,8 L36,8 L36,11 L0,11 Z M36,18', itemStyle: {color: '#555'}}
    ]
  },
  graphic: [
    {type: 'text', left: 600, top: 2734, style: {text: '5\u2032', fontFamily: 'Liberation Serif', fontSize: 26, fill: '#222'}},
    {type: 'text', left: 1976, top: 2734, style: {text: '3\u2032', fontFamily: 'Liberation Serif', fontSize: 26, fill: '#222'}}
  ],
  series: [
    {
      name: 'tree', type: 'custom', xAxisIndex: 0, yAxisIndex: 0, clip: false, silent: true,
      data: branchLines,
      renderItem: (params, api) => {
        const a = api.coord([api.value(0), api.value(1)]);
        const b = api.coord([api.value(2), api.value(3)]);
        return {type: 'line', shape: {x1: a[0], y1: a[1], x2: b[0], y2: b[1]},
          style: {stroke: '#2e2e2e', lineWidth: 2.4, lineCap: 'square'}};
      }
    },
    {
      name: 'bootstrap', type: 'custom', xAxisIndex: 0, yAxisIndex: 0, clip: false, silent: true,
      data: bootLabels,
      renderItem: (params, api) => {
        const p = api.coord([api.value(0), api.value(1)]);
        return {type: 'text', x: p[0] - 6, y: p[1],
          style: {text: String(api.value(2)), fontFamily: 'Liberation Serif', fontSize: 21, fill: '#555',
            align: 'right', verticalAlign: 'middle'}};
      }
    },
    {
      name: 'genes', type: 'custom', xAxisIndex: 0, yAxisIndex: 0, clip: false, silent: true,
      data: geneNames.map((n, i) => [LEAF_TIP, i]),
      renderItem: (params, api) => {
        const p = api.coord([api.value(0), api.value(1)]);
        return {type: 'text', x: p[0] + 8, y: p[1] + 1,
          style: {text: geneNames[params.dataIndex], fontFamily: 'Liberation Sans', fontSize: 27.5, fill: '#1a1a1a',
            align: 'left', verticalAlign: 'middle'}};
      }
    },
    {
      name: 'clades', type: 'custom', xAxisIndex: 0, yAxisIndex: 0, clip: false, silent: true,
      data: cladeRows.map(r => [CLADE_X, r]),
      renderItem: (params, api) => {
        const p = api.coord([api.value(0), api.value(1)]);
        return {type: 'text', x: p[0], y: p[1],
          style: {text: cladeNames[params.dataIndex], fontFamily: 'Liberation Sans', fontSize: 28.5, fill: '#222',
            align: 'center', verticalAlign: 'middle'}};
      }
    },
    {
      name: 'Intron', type: 'custom', xAxisIndex: 1, yAxisIndex: 1, clip: false, silent: true,
      itemStyle: {color: '#555'}, data: intronItems, renderItem: renderIntron
    },
    {
      name: 'UTR', type: 'custom', xAxisIndex: 1, yAxisIndex: 1, clip: false, silent: true,
      itemStyle: {color: '#4e50b2'}, data: utrItems, renderItem: renderUtr
    },
    {
      name: 'CDS', type: 'custom', xAxisIndex: 1, yAxisIndex: 1, clip: false, silent: true,
      itemStyle: {color: '#f6d45a'}, data: cdsItems, renderItem: renderCds
    }
  ]
});
</script>
</body>
</html>
